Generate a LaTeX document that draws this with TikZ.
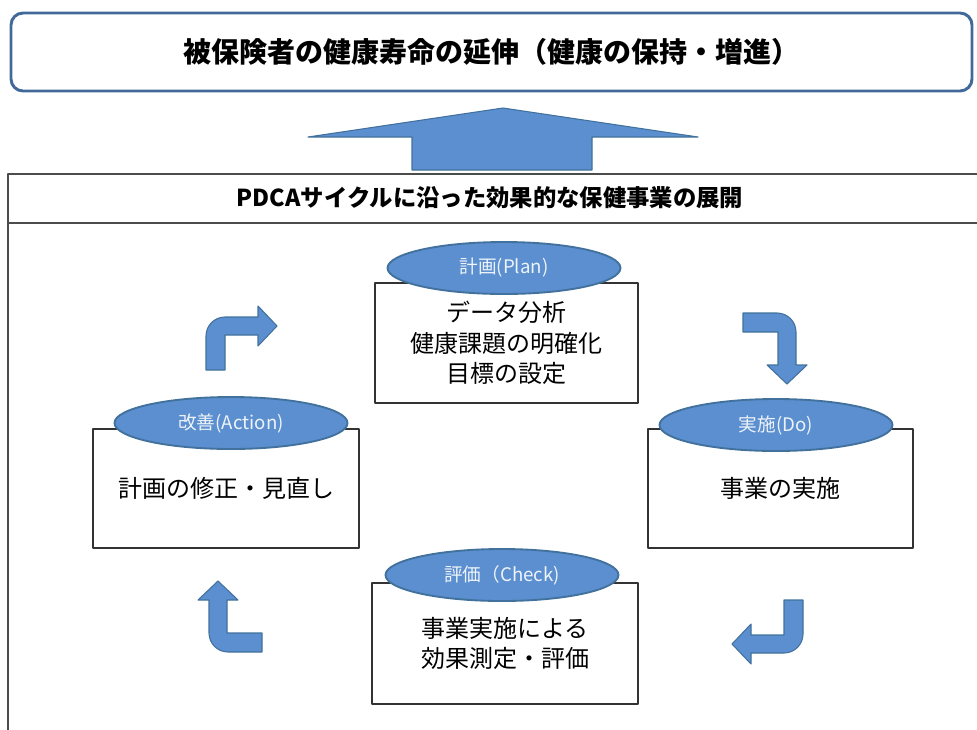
\documentclass[tikz,border=0pt]{standalone}
\usepackage{fontspec}
\setmainfont{Noto Sans CJK JP}
\usetikzlibrary{shapes.geometric}

\definecolor{pdcablue}{HTML}{5B8FCF}
\definecolor{pdcaedge}{HTML}{41719C}
\definecolor{goaledge}{HTML}{41699A}
\definecolor{tagtext}{HTML}{EEF3FA}

% bent arrow: #1 = start point, #2 = turn of the whole shape
\newcommand{\bentarrow}[2]{%
  \filldraw[pdcablue,draw=pdcaedge,line width=.8pt,shift={#1},rotate=#2]
    (0,0)--(0,34) arc[start angle=180,end angle=90,radius=19]--(52,53)--(52,64)
    --(71,44)--(52,24)--(52,35)--(19,35)--(19,0)--cycle;}

\begin{document}
\begin{tikzpicture}[x=0.75pt,y=0.75pt,line join=round,
	font=\fontsize{18}{23}\selectfont,
	goalbox/.style={draw=goaledge,line width=2.2pt,rounded corners=9pt,
		minimum width=720.75pt,minimum height=58.5pt,
		font=\bfseries\fontsize{21}{25}\selectfont},
	stepbox/.style={draw=black!80,line width=1.1pt,fill=white,align=center,inner sep=0pt},
	tag/.style={ellipse,fill=pdcablue,draw=pdcaedge,line width=1.4pt,inner sep=0pt,
		minimum width=174.75pt,minimum height=39pt,text=tagtext,
		font=\fontsize{14}{16}\selectfont}]
	\useasboundingbox (0,0) rectangle (977,-729);
	% goal
	\node[goalbox] (goal) at (491.5,-52) {被保険者の健康寿命の延伸（健康の保持・増進）};
	\filldraw[pdcablue,draw=pdcaedge,line width=.8pt]
		(412,-170)--(412,-137)--(308,-137)--(503,-108)--(698,-137)--(592,-137)--(592,-170)--cycle;
	% frame of the cycle
	\draw[black!70,line width=1.6pt] (1000,-174)-|(8,-740) (8,-223)--(1000,-223);
	\node[font=\bfseries\fontsize{17.5}{21}\selectfont] (head) at (490,-198)
		{PDCAサイクルに沿った効果的な保健事業の展開};
	% the four steps
	\node[stepbox,minimum width=197.25pt,minimum height=90pt] (plan) at (506.5,-343)
		{データ分析\\健康課題の明確化\\目標の設定};
	\node[stepbox,minimum width=198.75pt,minimum height=89.25pt] (do) at (780.5,-488.5)
		{事業の実施};
	\node[stepbox,minimum width=199.5pt,minimum height=90.75pt] (check) at (505,-643.5)
		{事業実施による\\効果測定・評価};
	\node[stepbox,minimum width=199.5pt,minimum height=89.25pt] (act) at (226,-488.5)
		{計画の修正・見直し};
	\node[tag] (plantag) at (504,-268) {計画(Plan)};
	\node[tag] (dotag) at (776,-425) {実施(Do)};
	\node[tag] (checktag) at (502,-575) {評価（Check)};
	\node[tag] (acttag) at (231,-423) {改善(Action)};
	% arrows round the cycle
	\bentarrow{(206,-370)}{0}
	\bentarrow{(743,-313)}{-90}
	\bentarrow{(803,-600)}{180}
	\bentarrow{(262,-652)}{90}
\end{tikzpicture}
\end{document}
